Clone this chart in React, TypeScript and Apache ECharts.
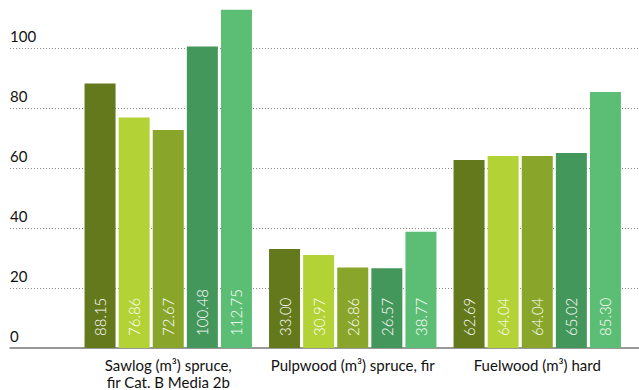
import React, { useEffect, useRef } from "react";
import * as echarts from "echarts";

const categories = [
  "Sawlog (m³) spruce,\nfir Cat. B Media 2b",
  "Pulpwood (m³) spruce, fir",
  "Fuelwood (m³) hard",
];
const series1 = [88.15, 33.0, 62.69];
const series2 = [76.86, 30.97, 64.04];
const series3 = [72.67, 26.86, 64.04];
const series4 = [100.48, 26.57, 65.02];
const series5 = [112.75, 38.77, 85.3];
const seriesData = [series1, series2, series3, series4, series5];
const colors = ["#63791b", "#b3d236", "#8aa62a", "#44975b", "#5cbe74"];

const FONT = "Lato";
const Y_MAX = 116;

export default function App() {
  const ref = useRef<HTMLDivElement>(null);

  useEffect(() => {
    if (!ref.current) return;
    const chart = echarts.init(ref.current, null, { renderer: "svg" });
    chart.setOption({
      animation: false,
      textStyle: { fontFamily: FONT },
      grid: [
        { left: 10, right: 0, top: 0, bottom: 42 },
        { left: 76, width: 553.5, top: 0, bottom: 42 },
      ],
      xAxis: [
        {
          gridIndex: 0,
          type: "value",
          min: 0,
          max: 1,
          axisLabel: { show: false },
          axisTick: { show: false },
          splitLine: { show: false },
          axisLine: { show: true, onZero: false, lineStyle: { color: "#777", width: 1.5 } },
        },
        {
          gridIndex: 1,
          type: "category",
          data: categories,
          axisLine: { show: false },
          axisTick: { show: false },
          axisLabel: {
            color: "#111",
            fontSize: 15,
            fontFamily: FONT,
            lineHeight: 16.5,
            margin: 9,
            interval: 0,
          },
        },
      ],
      yAxis: [
        {
          gridIndex: 0,
          type: "value",
          min: 0,
          max: Y_MAX,
          interval: 20,
          axisLine: { show: false },
          axisTick: { show: false },
          axisLabel: {
            showMaxLabel: false,
            align: "left",
            verticalAlign: "bottom",
            margin: 0,
            padding: [0, 0, 5, 0],
            color: "#111",
            fontSize: 15,
            fontFamily: FONT,
            formatter: (v: number) => (v % 20 === 0 ? String(v) : ""),
          },
          splitLine: {
            show: true,
            showMinLine: false,
            showMaxLine: false,
            lineStyle: { color: "#888", type: [1, 2], width: 1 },
          },
        },
        {
          gridIndex: 1,
          type: "value",
          min: 0,
          max: Y_MAX,
          show: false,
          splitLine: { show: false },
        },
      ],
      series: seriesData.map((d, i) => ({
        type: "bar",
        xAxisIndex: 1,
        yAxisIndex: 1,
        data: d,
        barWidth: 31,
        barGap: "10%",
        itemStyle: { color: colors[i] },
        label: {
          show: true,
          position: "insideBottom",
          distance: 12,
          rotate: 90,
          align: "left",
          verticalAlign: "middle",
          color: "#fff",
          fontSize: 15,
          fontFamily: FONT,
          fontWeight: 300,
          formatter: (p: any) => Number(p.value).toFixed(2),
        },
      })),
    });
    return () => chart.dispose();
  }, []);

  return (
    <div
      ref={ref}
      style={{ position: "absolute", left: 0, top: 0, width: 639, height: 390 }}
    />
  );
}
